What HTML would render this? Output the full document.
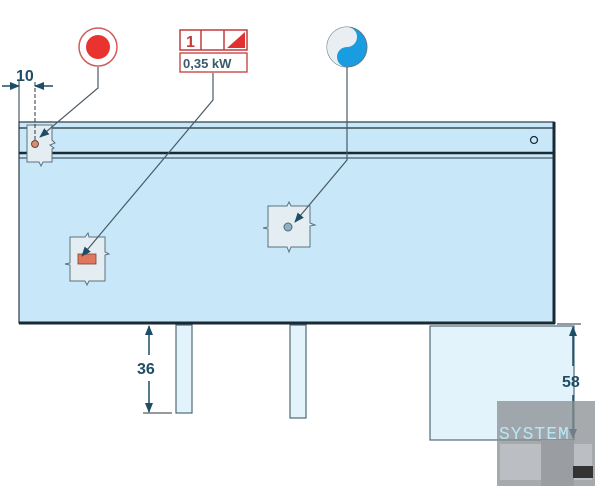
<!DOCTYPE html>
<html><head><style>
html,body{margin:0;padding:0;background:#fff;}
svg{display:block;font-family:"Liberation Sans",Arial,sans-serif;}
</style></head><body>
<svg width="600" height="486" viewBox="0 0 600 486">
<defs>
<marker id="ar" markerWidth="10" markerHeight="8" refX="9" refY="4" orient="auto" markerUnits="userSpaceOnUse">
<path d="M0,0 L10,4 L0,8 z" fill="#1e4d66"/></marker>
</defs>
<!-- legs -->
<rect x="176" y="325" width="16" height="88" fill="#e2f3fc" stroke="#4f6b78" stroke-width="1.2"/>
<rect x="290" y="325" width="16" height="93" fill="#e2f3fc" stroke="#4f6b78" stroke-width="1.2"/>
<rect x="430" y="326" width="144" height="114" fill="#e2f3fc" stroke="#4f6b78" stroke-width="1.2"/>
<!-- main body -->
<rect x="19" y="122" width="535" height="201" fill="#c8e8fa" stroke="#2a3a44" stroke-width="1.2"/>
<line x1="554" y1="122" x2="554" y2="324" stroke="#1a2a33" stroke-width="3"/>
<line x1="19" y1="323" x2="555" y2="323" stroke="#1a2a33" stroke-width="3"/>
<line x1="19" y1="128" x2="554" y2="128" stroke="#1e2e38" stroke-width="1.2"/>
<line x1="19" y1="153" x2="554" y2="153" stroke="#1a2a33" stroke-width="2.5"/>
<line x1="19" y1="158" x2="554" y2="158" stroke="#2a3a44" stroke-width="1"/>
<circle cx="534" cy="140" r="3.5" fill="none" stroke="#1e2e38" stroke-width="1.3"/>
<!-- small fitting top-left -->
<path d="M27,125 H52 V140 l3,3 -5,2 4,3 -2,1 V162 H43 l-2,4 -2,-4 H27 Z" fill="#e4eef2" stroke="#5a7280" stroke-width="1"/>
<circle cx="35" cy="144" r="3.5" fill="#d98a70" stroke="#6a4a40" stroke-width="1"/>
<!-- left component -->
<path d="M70,237 H85 l3,-4 1,4 H105 V252 l4,2 -4,1 V281 H89 l-2,4 -2,-4 H70 V265 l-5,-1 5,-1 Z" fill="#e4eef2" stroke="#5a7280" stroke-width="1"/>
<rect x="78" y="254" width="18" height="10" fill="#e07860" stroke="#7a4030" stroke-width="0.8"/>
<!-- middle component -->
<path d="M268,206 H287 l2,-4 2,4 H310 V223 l5,2 -5,1 V247 H291 l-2,5 -2,-5 H268 V229 l-5,-1 5,-1 Z" fill="#e4eef2" stroke="#5a7280" stroke-width="1"/>
<circle cx="288" cy="227" r="4" fill="#8fb0c4" stroke="#4f6b78" stroke-width="1"/>
<!-- icons -->
<circle cx="98" cy="47" r="19" fill="#fff" stroke="#d45a5a" stroke-width="1.5"/>
<circle cx="98" cy="47" r="12" fill="#e8332f"/>
<rect x="180" y="30" width="67" height="20" fill="#fff" stroke="#c43a3a" stroke-width="1.5"/>
<line x1="201" y1="30" x2="201" y2="50" stroke="#c43a3a" stroke-width="1.5"/>
<line x1="224" y1="30" x2="224" y2="50" stroke="#c43a3a" stroke-width="1.5"/>
<path d="M227,48 L245,32 V48 Z" fill="#e03030"/>
<text x="186" y="47" font-size="16" font-weight="bold" fill="#c43a3a">1</text>
<rect x="180" y="53" width="67" height="19" fill="#fff" stroke="#c43a3a" stroke-width="1.3"/>
<text x="183" y="68" font-size="13" font-weight="bold" fill="#3a5a6a">0,35 kW</text>
<circle cx="347" cy="47" r="20" fill="#1a9ce0" stroke="#5a7a8a" stroke-width="1"/>
<path d="M347,27 A20,20 0 0 0 347,67 A10,10 0 0 1 347,47 A10,10 0 0 0 347,27 Z" fill="#e8eef2"/>
<!-- leaders -->
<polyline points="98,67 98,88 40,137" fill="none" stroke="#4a5a64" stroke-width="1.2" marker-end="url(#ar)"/>
<polyline points="213,73 213,100 82,256" fill="none" stroke="#4a5a64" stroke-width="1.2" marker-end="url(#ar)"/>
<polyline points="347,67 347,160 295,222" fill="none" stroke="#4a5a64" stroke-width="1.2" marker-end="url(#ar)"/>
<!-- dim 10 -->
<line x1="19" y1="80" x2="19" y2="122" stroke="#2a3a44" stroke-width="1"/>
<line x1="35" y1="82" x2="35" y2="140" stroke="#2a3a44" stroke-width="1" stroke-dasharray="4,2"/>
<line x1="2" y1="86" x2="19" y2="86" stroke="#1e4d66" stroke-width="1.5" marker-end="url(#ar)"/>
<line x1="53" y1="86" x2="35" y2="86" stroke="#1e4d66" stroke-width="1.5" marker-end="url(#ar)"/>
<text x="16" y="81" font-size="16" font-weight="bold" fill="#1e4d66">10</text>
<!-- dim 36 -->
<line x1="149" y1="355" x2="149" y2="326" stroke="#1e4d66" stroke-width="1.5" marker-end="url(#ar)"/>
<line x1="149" y1="381" x2="149" y2="412" stroke="#1e4d66" stroke-width="1.5" marker-end="url(#ar)"/>
<line x1="143" y1="413" x2="172" y2="413" stroke="#2a3a44" stroke-width="1"/>
<text x="137" y="374" font-size="16" font-weight="bold" fill="#1e4d66">36</text>
<!-- dim 58 -->
<line x1="557" y1="324" x2="581" y2="324" stroke="#2a3a44" stroke-width="1"/>
<line x1="573" y1="366" x2="573" y2="327" stroke="#1e4d66" stroke-width="1.5" marker-end="url(#ar)"/>
<line x1="573" y1="395" x2="573" y2="438" stroke="#1e4d66" stroke-width="1.5" marker-end="url(#ar)"/>
<text x="562" y="387" font-size="16" font-weight="bold" fill="#1e4d66">58</text>
<!-- watermark -->
<rect x="497" y="401" width="98" height="85" fill="#8a8e92" opacity="0.75"/>
<rect x="500" y="444" width="92" height="36" fill="#c0c4c8" opacity="0.8"/>
<rect x="541" y="440" width="33" height="46" fill="#9a9ea2"/>
<text x="499" y="439" font-size="18" fill="#b8e8f4" letter-spacing="1" font-family="Liberation Mono,monospace">SYSTEM</text>
<rect x="573" y="466" width="20" height="12" fill="#333"/>
</svg>
</body></html>
